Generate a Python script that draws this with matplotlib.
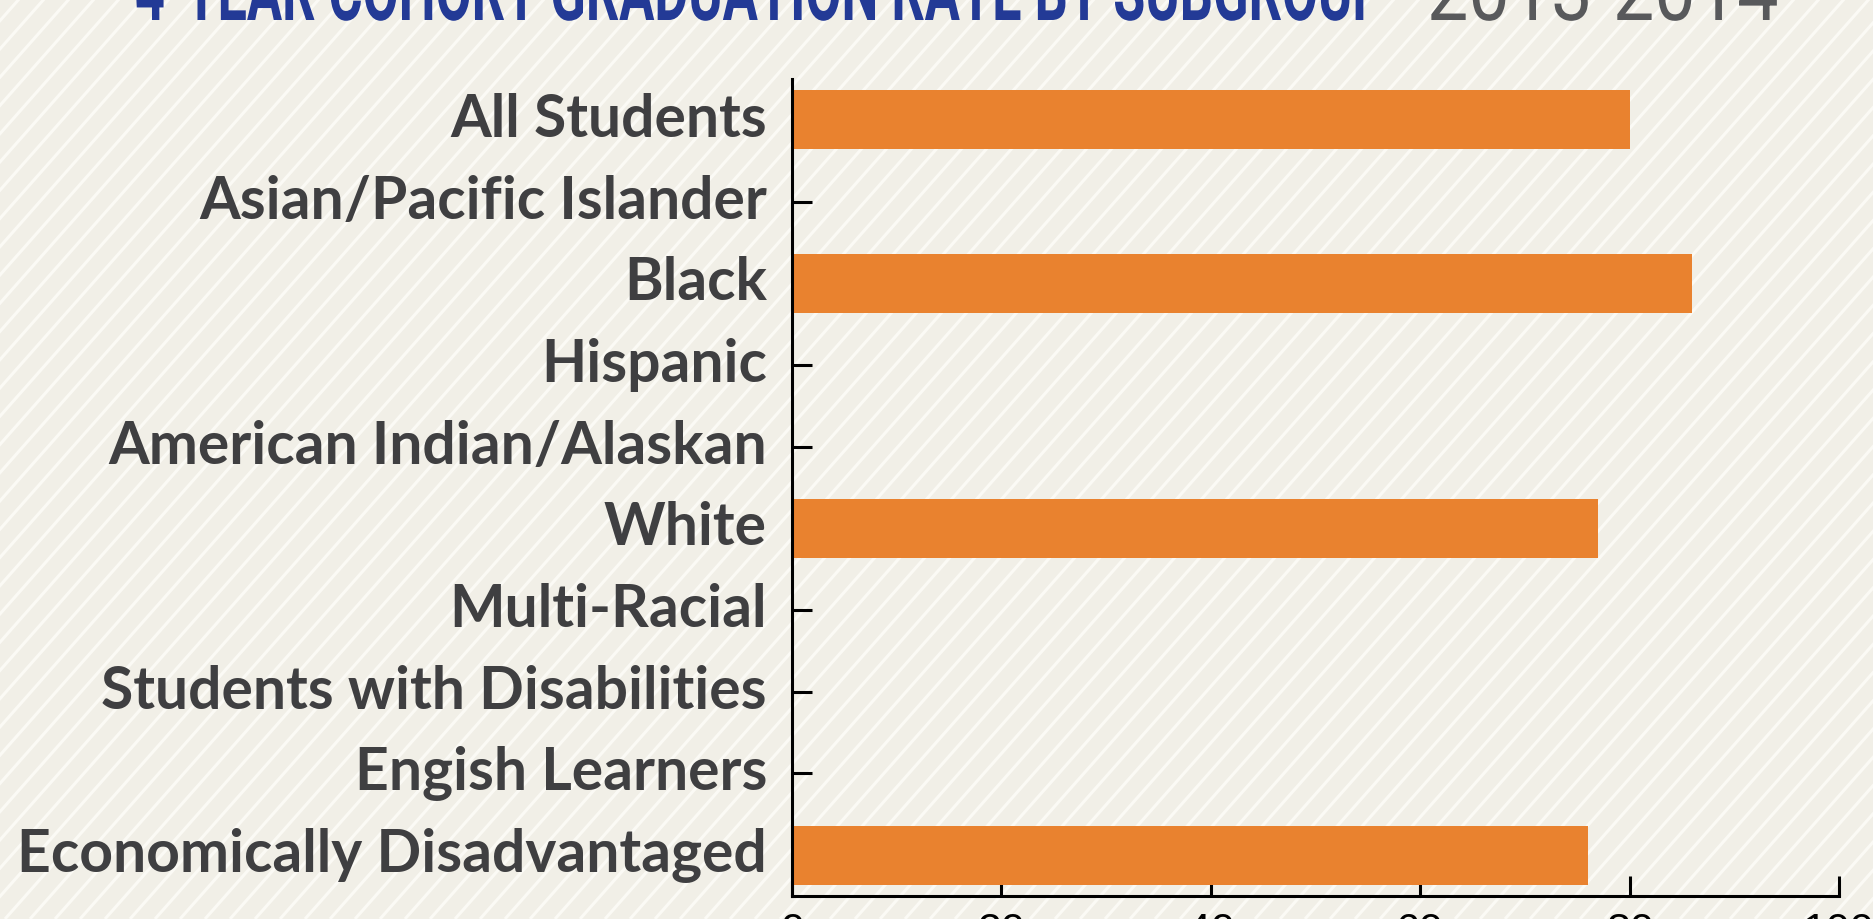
import numpy as np
import matplotlib
matplotlib.use('Agg')
import matplotlib.pyplot as plt
from matplotlib.patheffects import AbstractPathEffect
from matplotlib.transforms import Affine2D, ScaledTranslation

# Data
categories = ['All Students', 'Asian/Pacific Islander', 'Black', 'Hispanic',
              'American Indian/Alaskan', 'White', 'Multi-Racial',
              'Students with Disabilities', 'Engish Learners',
              'Economically Disadvantaged']
rates = [80, None, 86, None, None, 77, None, None, None, 76]
x_ticks = [0, 20, 40, 60, 80, 100]

title_main = '4-YEAR COHORT GRADUATION RATE BY SUBGROUP'
title_year = '2013-2014'


class Stretch(AbstractPathEffect):
    """Draw text taller around its baseline (fakes a condensed face)."""
    def __init__(self, sy, y0):
        super().__init__()
        self.sy = sy
        self.y0 = y0

    def draw_path(self, renderer, gc, tpath, affine, rgbFace=None):
        tr = affine + Affine2D().translate(0, -self.y0).scale(1, self.sy).translate(0, self.y0)
        renderer.draw_path(gc, tpath, tr, rgbFace)


W, H = 1874, 920
fig = plt.figure(figsize=(W / 100, H / 100), dpi=100)
fig.patch.set_facecolor('#f1efe7')

# Striped background (pixel coordinates)
bg = fig.add_axes([0, 0, 1, 1], zorder=-10)
bg.set_xlim(0, W)
bg.set_ylim(0, H)
bg.axis('off')
slope = 1.13
for x0 in np.arange(-H, W + 25, 25):
    bg.plot([x0, x0 + H / slope], [0, H], color='#fbfaf5', lw=2.2,
            solid_capstyle='butt')

# Main axes
ax = fig.add_axes([792 / W, 23 / H, 1047 / W, 817 / H])
ax.set_facecolor('none')
ypos = np.arange(len(categories))
for y, v in zip(ypos, rates):
    if v is not None:
        ax.barh(y, v, height=0.72, color='#e9822f', zorder=2)

ax.set_xlim(0, 100)
ax.set_ylim(len(categories) - 0.5, -0.5)
ax.set_yticks(ypos)
ax.set_yticklabels(categories, fontfamily=['Lato', 'DejaVu Sans'],
                   fontweight='bold', fontsize=42.3, color='#3f3f41')
ax.set_xticks(x_ticks)
ax.set_xticklabels([str(t) for t in x_ticks],
                   fontfamily=['Liberation Sans', 'DejaVu Sans'],
                   fontsize=31, color='black')

for s in ['top', 'right']:
    ax.spines[s].set_visible(False)
for s in ['left', 'bottom']:
    ax.spines[s].set_linewidth(2.2)
    ax.spines[s].set_color('black')
ax.tick_params(axis='both', direction='in', length=14.4, width=2.2)
ax.tick_params(axis='y', pad=18)
ax.tick_params(axis='x', pad=11)

# nudge category labels up a little
for lab in ax.get_yticklabels():
    lab.set_transform(lab.get_transform() + ScaledTranslation(0, 0.06, fig.dpi_scale_trans))

# Title (cut at the top of the image)
base_y = H - 21
t1 = fig.text(135 / W, base_y / H, title_main,
              fontfamily=['Roboto', 'DejaVu Sans'], fontweight='bold',
              fontsize=40, color='#233a96', va='baseline', ha='left')
t2 = fig.text(1427 / W, base_y / H, title_year,
              fontfamily=['Roboto', 'DejaVu Sans'],
              fontsize=40, color='#58595b', va='baseline', ha='left')

# fit each piece to its width in the reference, then make it taller
fig.canvas.draw()
r = fig.canvas.get_renderer()
for t, span, cap in [(t1, 1250, 58), (t2, 351, 62)]:
    w = t.get_window_extent(r).width
    fs = t.get_fontsize() * span / w
    t.set_fontsize(fs)
    cap_now = 0.711 * fs * 100 / 72
    t.set_path_effects([Stretch(cap / cap_now, base_y)])

fig.savefig('out.png', dpi=100, facecolor=fig.get_facecolor())
